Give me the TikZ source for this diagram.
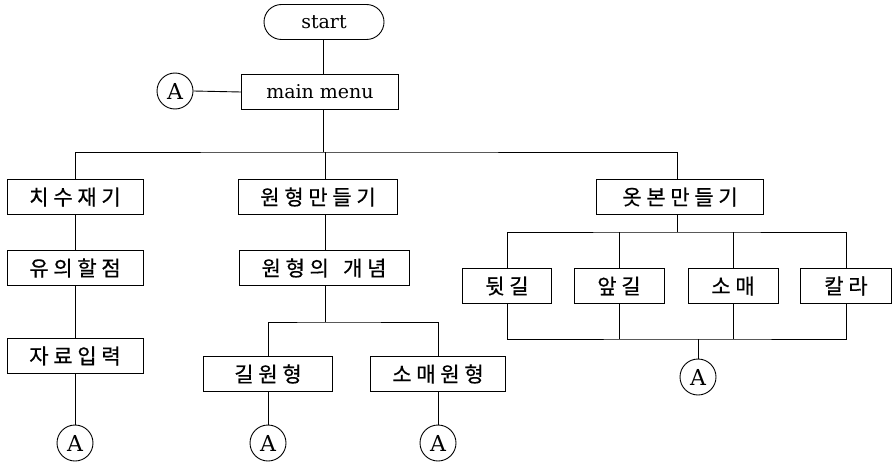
\documentclass[tikz,border=0pt]{standalone}
\usepackage{fontspec}
\setmainfont{DejaVu Serif}
\newfontfamily\kr[FakeBold=0.6]{Noto Sans CJK KR}
\usetikzlibrary{shapes.misc}
\begin{document}
\begin{tikzpicture}[x=1pt,y=-1pt,
  every path/.style={line width=0.9pt},
  box/.style={draw,line width=0.9pt,minimum height=35pt,inner sep=0pt,
    font=\kr\fontsize{21}{21}\selectfont},
  conn/.style={draw,circle,line width=0.9pt,minimum size=36pt,inner sep=0pt,
    font=\fontsize{22}{22}\selectfont},
  term/.style={draw,rounded rectangle,line width=0.9pt,minimum width=120pt,
    minimum height=35pt,inner sep=0pt,font=\fontsize{19}{19}\selectfont}]
\useasboundingbox (0,0) rectangle (893,468);

% top of the chart
\node[term] (start) at (324,22) {start};
\node[box,minimum width=157pt,font=\fontsize{19}{19}\selectfont] (menu) at (320,92) {main menu};
\node[conn] (a0) at (175,91) {A};

% first level
\node[box,minimum width=136pt] (c1) at (75,197) {치 수 재 기};
\node[box,minimum width=159pt] (c2) at (318,197) {원 형 만 들 기};
\node[box,minimum width=167pt] (c3) at (680,197) {옷 본 만 들 기};

% left branch
\node[box,minimum width=136pt] (l2) at (75,268) {유 의 할 점};
\node[box,minimum width=136pt] (l3) at (75,356) {자 료 입 력};
\node[conn] (a1) at (75,443) {A};

% middle branch
\node[box,minimum width=170pt] (m2) at (324,268) {원 형 의 \ \ 개 념};
\node[box,minimum width=129pt] (g1) at (268,374) {길 원 형};
\node[box,minimum width=135pt] (g2) at (438,374) {소 매 원 형};
\node[conn] (a2) at (268,443) {A};
\node[conn] (a3) at (438,443) {A};

% right branch
\node[box,minimum width=89pt] (r1) at (507,286) {뒷 길};
\node[box,minimum width=90pt] (r2) at (619,286) {앞 길};
\node[box,minimum width=90pt] (r3) at (733,286) {소 매};
\node[box,minimum width=91pt] (r4) at (846,286) {칼 라};
\node[conn] (a4) at (698,377) {A};

% trunk positions and bus levels
\coordinate (t0) at (323,0);
\coordinate (t1) at (325,0);
\coordinate (b1) at (323,152);
\coordinate (b2) at (325,322);
\coordinate (b3) at (677,232);
\coordinate (b4) at (698,339);

% connectors
\draw (start.south -| t0) -- (menu.north -| t0);
\draw (a0.east) -- (menu.west);
\draw (menu.south -| t0) -- (b1);
\draw (c1.north) |- (b1) -| (c3.north -| b3);
\draw (c2.north -| t1) -- (b1 -| t1);

\draw (c1) -- (l2) -- (l3) -- (a1);

\draw (c2.south -| t1) -- (m2.north -| t1);
\draw (m2.south -| t1) -- (b2);
\draw (g1.north) |- (b2) -| (g2.north);
\draw (g1) -- (a2);
\draw (g2) -- (a3);

\draw (c3.south -| b3) -- (b3);
\draw (r1.north) |- (b3) -| (r4.north);
\draw (r2.north) -- (r2.north |- b3);
\draw (r3.north) -- (r3.north |- b3);
\draw (r1.south) |- (b4) -| (r4.south);
\draw (r2.south) -- (r2.south |- b4);
\draw (r3.south) -- (r3.south |- b4);
\draw (a4.north) -- (b4);
\end{tikzpicture}
\end{document}
